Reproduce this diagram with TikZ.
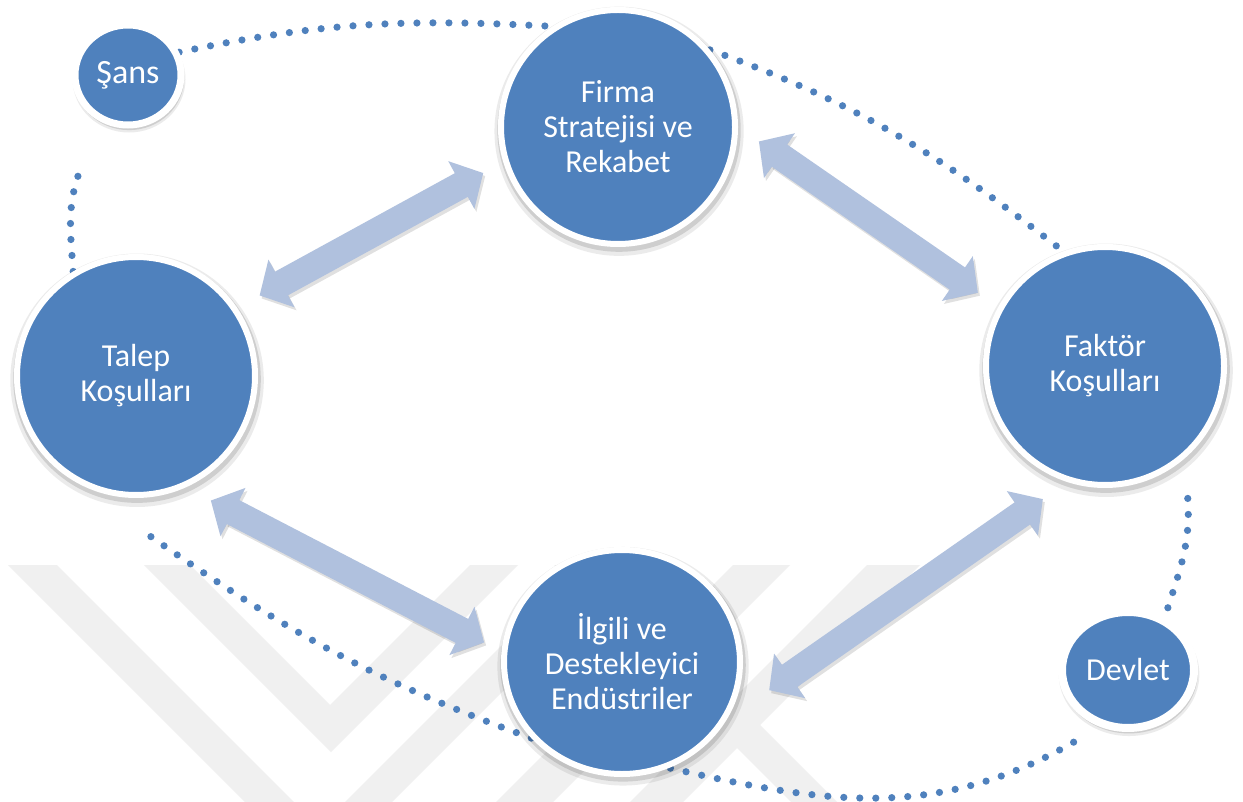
\documentclass[tikz,border=0pt]{standalone}
\usepackage{fontspec}
\setmainfont{Carlito}
\usetikzlibrary{arrows.meta,shapes.geometric,shadows,calc,backgrounds}

\definecolor{ptblue}{RGB}{79,129,189}
\definecolor{arrowblue}{RGB}{176,193,222}
\definecolor{markgray}{RGB}{240,240,240}

\tikzset{
  ball/.style={ellipse, fill=ptblue, draw=white, line width=3pt, text=white,
    align=center, inner sep=0pt, font=\fontsize{16}{17.5}\selectfont,
    drop shadow={shadow xshift=.5pt, shadow yshift=-2pt, shadow scale=1.065,
      opacity=.08, fill=black},
    drop shadow={shadow xshift=.5pt, shadow yshift=-1.5pt, shadow scale=1.04,
      opacity=.12, fill=black}},
  dotline/.style={draw=ptblue, line width=3.6pt, line cap=round,
    dash pattern=on 0pt off 8pt},
  twoway/.style={arrowblue, line width=13.5pt,
    {Triangle[width=26.5pt,length=12.5pt]}-{Triangle[width=26.5pt,length=12.5pt]}},
  twowayshade/.style={twoway, draw=black, opacity=.12,
    transform canvas={xshift=1pt,yshift=-1.5pt}},
}

\begin{document}
\begin{tikzpicture}[x=0.5pt,y=-0.5pt]
  \useasboundingbox (0,0) rectangle (1243,802);

  % the six circles
  \node[ball, minimum width=53pt, minimum height=50pt, line width=3.5pt,
    font=\fontsize{17}{20}\selectfont] (sans) at (128,75) {Şans};
  \node[ball, minimum width=117pt, minimum height=117pt] (firma) at (618,127)
    {Firma\\Stratejisi ve\\Rekabet};
  \node[ball, minimum width=119pt, minimum height=119pt] (talep) at (136,376)
    {Talep\\Koşulları};
  \node[ball, minimum width=119pt, minimum height=119pt] (faktor) at (1105,366)
    {Faktör\\Koşulları};
  \node[ball, minimum width=118pt, minimum height=112pt] (ilgili) at (622,662)
    {İlgili ve\\Destekleyici\\Endüstriler};
  \node[ball, minimum width=66pt, minimum height=58pt, line width=4pt]
    (devlet) at (1128,670) {Devlet};

  \begin{pgfonlayer}{background}
    \fill[white] (0,0) rectangle (1243,802);
    % faint watermark
    \fill[markgray] (8,565) -- (57,565) -- (294,802) -- (245,802) -- cycle;
    \fill[markgray] (144,565) -- (190,565) -- (330,705) -- (470,565)
      -- (518,565) -- (331,752) -- cycle;
    \fill[markgray] (345,802) -- (392,802) -- (629,565) -- (582,565) -- cycle;
    \fill[markgray] (496,802) -- (553,802) -- (790,565) -- (733,565) -- cycle;
    \fill[markgray] (554,565) -- (600,565) -- (837,802) -- (791,802) -- cycle;
    \fill[markgray] (630,802) -- (683,802) -- (920,565) -- (867,565) -- cycle;

    % dotted ring
    \draw[dotline] (sans.24) to[out=12,in=177] (firma.123);
    \draw[dotline] (firma.40) to[out=-20,in=142] (faktor.110);
    \draw[dotline] ($(faktor.center)!1.28!(faktor.-58)$) to[out=-86,in=73] (devlet.55);
    \draw[dotline] ($(devlet.center)!1.4!(devlet.-127)$) to[out=210,in=-13] (ilgili.-66);
    \draw[dotline] (ilgili.220) to[out=160,in=-35] ($(talep.center)!1.28!(talep.-87)$);
    \draw[dotline] (talep.121) to[out=94,in=-112] ($(sans.center)!1.88!(sans.-117)$);
  \end{pgfonlayer}

  % double arrows
  \foreach \a/\b/\s/\t in {talep.34/firma.197/12.8pt/11.4pt,
      firma.0/faktor.151/12.7pt/12.4pt,
      faktor.252/ilgili.-29/14.9pt/26pt,
      talep.-66/ilgili.175/14.2pt/9.8pt}{
    \draw[twowayshade, shorten <=\s, shorten >=\t] (\a) -- (\b);
    \draw[twoway, shorten <=\s, shorten >=\t] (\a) -- (\b);
  }
\end{tikzpicture}
\end{document}
